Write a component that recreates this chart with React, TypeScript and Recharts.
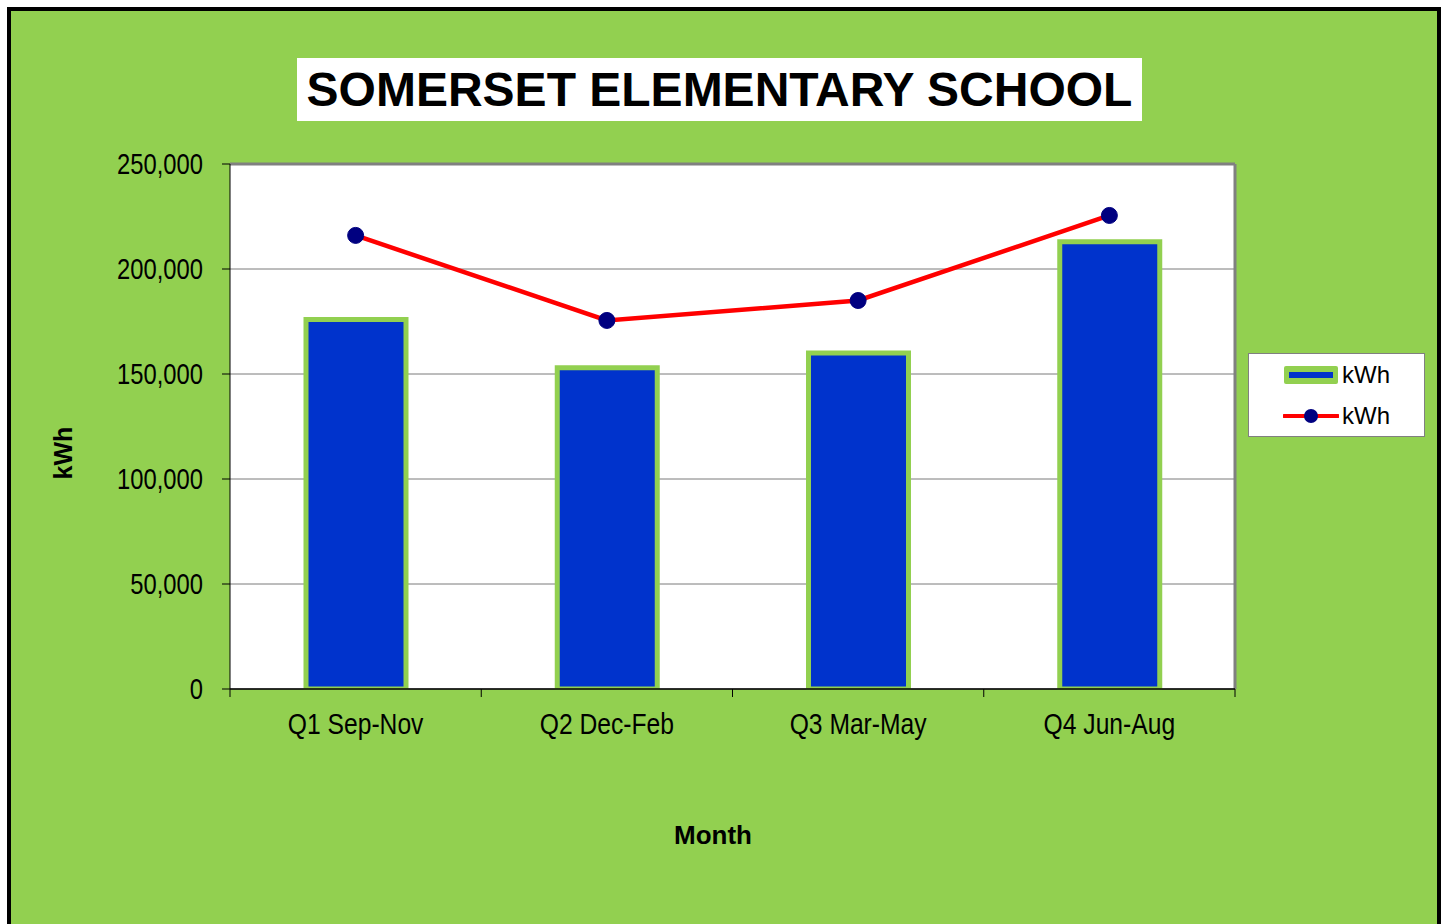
import React from 'react'
import {
  Bar,
  CartesianGrid,
  ComposedChart,
  Legend,
  Line,
  ReferenceLine,
  XAxis,
  YAxis,
} from 'recharts'

const categories = ['Q1 Sep-Nov', 'Q2 Dec-Feb', 'Q3 Mar-May', 'Q4 Jun-Aug']
const barKwh = [176000, 153000, 160000, 213000]
const lineKwh = [216000, 175500, 185000, 225500]
const yTicks = [0, 50000, 100000, 150000, 200000, 250000]

const GREEN = '#92D050'
const BLUE = '#0033CC'
const RED = '#FF0000'
const NAVY = '#000080'
const SANS = "'Liberation Sans', Arial, sans-serif"
const X_TICK_MARGIN = 24

const data = categories.map((name, i) => ({
  name,
  bar: barKwh[i],
  line: lineKwh[i],
}))

const fmt = (v: number) => v.toLocaleString('en-US')

// Arial Narrow look-alike: Liberation Sans squeezed horizontally
function NarrowText({ x, y, anchor, dy, squeeze = 0.82, children }: any) {
  return (
    <g transform={`translate(${x},${y}) scale(${squeeze},1)`}>
      <text x={0} y={0} dy={dy} textAnchor={anchor} fontFamily={SANS} fontSize={29} fill="#000">
        {children}
      </text>
    </g>
  )
}

function YTick({ x, y, payload }: any) {
  return (
    <NarrowText x={x} y={y} anchor="end" dy="0.355em">
      {fmt(payload.value)}
    </NarrowText>
  )
}

// category label plus Excel-style tick marks on the band edges
function XTick({ x, y, payload }: any) {
  const half = payload.offset ?? 0
  const axisY = y - X_TICK_MARGIN
  const isLast = payload.value === categories[categories.length - 1]
  return (
    <g>
      <line x1={x - half} y1={axisY} x2={x - half} y2={axisY + 8} stroke="#000" />
      {isLast && <line x1={x + half} y1={axisY} x2={x + half} y2={axisY + 8} stroke="#000" />}
      <NarrowText x={x} y={y} anchor="middle" dy="0.71em" squeeze={0.85}>
        {payload.value}
      </NarrowText>
    </g>
  )
}

function LegendBox({ payload }: any) {
  const items = payload ?? []
  return (
    <div
      style={{
        width: 177,
        height: 84,
        boxSizing: 'border-box',
        background: '#fff',
        border: '1px solid #808080',
        fontFamily: SANS,
        fontSize: 24,
      }}
    >
      {items.map((entry: any, i: number) => (
        <div
          key={i}
          style={{ display: 'flex', alignItems: 'center', height: 41, paddingLeft: 34 }}
        >
          <svg width={56} height={20} style={{ marginRight: 3 }}>
            {entry.type === 'line' ? (
              <g>
                <line x1={1} y1={10} x2={55} y2={10} stroke={RED} strokeWidth={4} strokeLinecap="round" />
                <circle cx={28} cy={10} r={7} fill={NAVY} />
              </g>
            ) : (
              <g>
                <rect x={1} y={1} width={54} height={18} rx={2} fill={GREEN} />
                <rect x={6} y={7} width={44} height={6} fill={BLUE} />
              </g>
            )}
          </svg>
          <span style={{ color: '#000', lineHeight: 1 }}>kWh</span>
        </div>
      ))}
    </div>
  )
}

export default function App() {
  return (
    <div
      style={{
        position: 'absolute',
        left: 0,
        top: 0,
        width: 1444,
        height: 924,
        overflow: 'hidden',
        background: '#fff',
      }}
    >
      <div
        style={{
          position: 'absolute',
          left: 7,
          top: 7,
          width: 1434,
          height: 960,
          boxSizing: 'border-box',
          border: '4px solid #000',
          background: GREEN,
        }}
      />
      <div
        style={{
          position: 'absolute',
          left: 297,
          top: 58,
          width: 845,
          height: 63,
          background: '#fff',
          display: 'flex',
          alignItems: 'center',
          justifyContent: 'center',
          fontFamily: SANS,
          fontWeight: 'bold',
          fontSize: 48,
          color: '#000',
          whiteSpace: 'nowrap',
        }}
      >
        SOMERSET ELEMENTARY SCHOOL
      </div>
      <div
        style={{
          position: 'absolute',
          left: 63,
          top: 453,
          transform: 'translate(-50%, -50%) rotate(-90deg)',
          fontFamily: SANS,
          fontWeight: 'bold',
          fontSize: 25,
          color: '#000',
          whiteSpace: 'nowrap',
        }}
      >
        kWh
      </div>
      <div
        style={{
          position: 'absolute',
          left: 713,
          top: 835,
          transform: 'translate(-50%, -50%)',
          fontFamily: SANS,
          fontWeight: 'bold',
          fontSize: 26,
          color: '#000',
          whiteSpace: 'nowrap',
        }}
      >
        Month
      </div>
      <div style={{ position: 'absolute', left: 0, top: 0 }}>
        <ComposedChart
          width={1444}
          height={924}
          data={data}
          margin={{ top: 164, right: 32, bottom: 175, left: 130 }}
        >
          <CartesianGrid vertical={false} stroke="#7a7a7a" fill="#fff" />
          <XAxis
            dataKey="name"
            height={60}
            axisLine={{ stroke: '#000', strokeWidth: 1.5 }}
            tickLine={false}
            tickSize={0}
            tickMargin={X_TICK_MARGIN}
            tick={<XTick />}
            interval={0}
          />
          <YAxis
            width={100}
            domain={[0, 250000]}
            ticks={yTicks}
            axisLine={{ stroke: '#000' }}
            tickLine={{ stroke: '#000' }}
            tickSize={8}
            tickMargin={19}
            tick={<YTick />}
          />
          <ReferenceLine
            x={categories[categories.length - 1]}
            position="end"
            stroke="#808080"
            strokeWidth={3}
          />
          <ReferenceLine y={250000} stroke="#808080" strokeWidth={3} />
          <Bar
            dataKey="bar"
            name="kWh"
            fill={BLUE}
            stroke={GREEN}
            strokeWidth={5}
            barSize={100}
            isAnimationActive={false}
          />
          <Line
            dataKey="line"
            name="kWh"
            stroke={RED}
            strokeWidth={4.5}
            dot={{ r: 8, fill: NAVY, stroke: NAVY, strokeWidth: 1 }}
            activeDot={false}
            legendType="line"
            isAnimationActive={false}
          />
          <Legend
            layout="vertical"
            align="right"
            verticalAlign="middle"
            content={<LegendBox />}
            wrapperStyle={{ position: 'absolute', left: 1248, top: 353, width: 177, height: 84 }}
          />
        </ComposedChart>
      </div>
    </div>
  )
}
